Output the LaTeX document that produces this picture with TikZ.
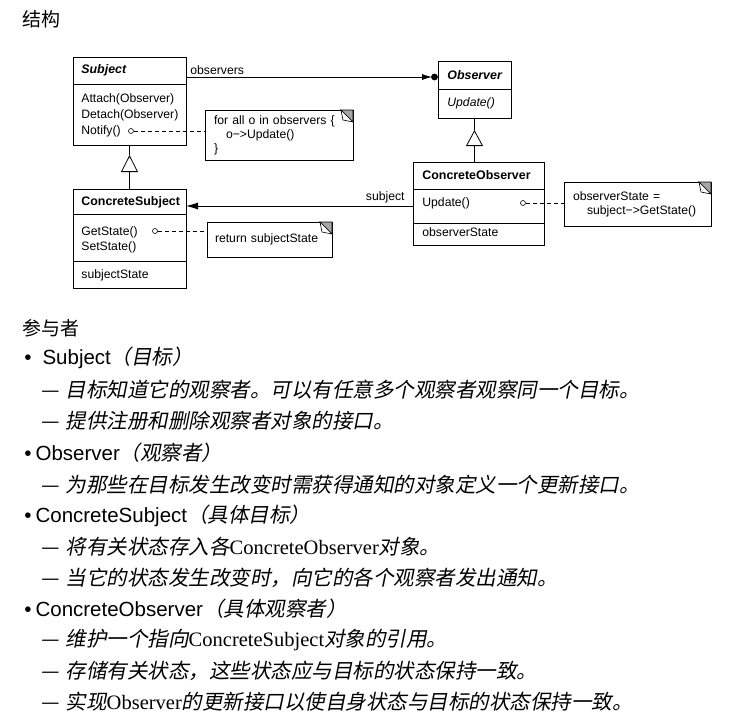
\documentclass[tikz,border=0pt]{standalone}
\usepackage{fontspec}
\setmainfont{Liberation Sans}
\newfontfamily\cjk{Noto Sans CJK SC}
\newfontfamily\cjkit{Noto Sans CJK SC}[FakeSlant=0.2]
\newfontfamily\tnr{Liberation Serif}
\usetikzlibrary{arrows.meta}
\newcommand\dgf{\fontsize{12.2}{14}\selectfont}
\newcommand\dgb{\fontsize{12.4}{14}\selectfont\bfseries}
\newcommand\bigf{\fontsize{20.5}{24}\selectfont}
\tikzset{
  box/.style={draw, anchor=north west, inner sep=0pt, outer sep=0pt},
  lbl/.style={anchor=west, inner sep=0pt, font=\dgf},
  note/.style={draw, anchor=north west, inner xsep=9pt, inner ysep=0pt, align=left, font=\dgf, outer sep=0pt},
  pin/.style={circle, draw, fill=white, minimum size=5pt, inner sep=0pt, line width=0.6pt},
  dsh/.style={dash pattern=on 4pt off 3pt},
  item/.style={anchor=west, inner sep=0pt, font=\bigf},
}
\newcommand\fold[1]{%
  \filldraw[fill=gray!70, line width=0.6pt] (#1.north east) -- ++(-12,0) -- ++(12,12) -- cycle;
  \filldraw[fill=white, line width=0.6pt] ([xshift=-12pt]#1.north east) -- ++(2,10) -- ++(10,2) -- cycle;
}
\begin{document}
\begin{tikzpicture}[x=1pt,y=-1pt,line width=0.8pt]
\useasboundingbox (0,0) rectangle (740,724);

% ---------- Subject
\node[box, minimum width=113pt, minimum height=27pt] (subjH) at (73,57) {};
\node[box, minimum width=113pt, minimum height=61pt] (subjO) at (subjH.south west) {};
\node[lbl, font=\dgb\itshape] (tSubj) at (81,70) {Subject};
\node[lbl] (tAtt) at (81,99) {Attach(Observer)};
\node[lbl] (tDet) at (81,115) {Detach(Observer)};
\node[lbl] (tNot) at (81,131) {Notify()};

% ---------- Observer
\node[box, minimum width=73pt, minimum height=28pt] (obsH) at (438,61) {};
\node[box, minimum width=73pt, minimum height=29pt] (obsO) at (obsH.south west) {};
\node[lbl, font=\dgb\itshape] (tObs) at (447,75) {Observer};
\node[lbl, font=\dgf\itshape] (tUpd) at (447,103) {Update()};

% ---------- ConcreteObserver
\node[box, minimum width=131pt, minimum height=27pt] (coH) at (413,162) {};
\node[box, minimum width=131pt, minimum height=34pt] (coO) at (coH.south west) {};
\node[box, minimum width=131pt, minimum height=22pt] (coA) at (coO.south west) {};
\node[lbl, font=\dgb] (tCO) at (422,175) {ConcreteObserver};
\node[lbl] (tCOU) at (422,203) {Update()};
\node[lbl] (tCOS) at (422,232) {observerState};

% ---------- ConcreteSubject
\node[box, minimum width=113pt, minimum height=25pt] (csH) at (73,189) {};
\node[box, minimum width=113pt, minimum height=47pt] (csO) at (csH.south west) {};
\node[box, minimum width=113pt, minimum height=27pt] (csA) at (csO.south west) {};
\node[lbl, font=\dgb] (tCS) at (81,202) {ConcreteSubject};
\node[lbl] (tGet) at (81,232) {GetState()};
\node[lbl] (tSet) at (81,247) {SetState()};
\node[lbl] (tSS) at (81,275) {subjectState};

% ---------- notes
\node[note, minimum height=50pt, text width=130pt] (n1) at (205,110)
  {for all o in observers \{\\\hspace*{12pt}o−>Update()\\\}};
\fold{n1}
\node[note, minimum height=44pt, text width=129pt] (n2) at (564,182)
  {observerState =\\\hspace*{14pt}subject−>GetState()};
\fold{n2}
\node[note, minimum height=35pt, text width=109pt, inner xsep=8pt] (n3) at (207,222)
  {return subjectState};
\fold{n3}

% ---------- pins and dashed links
\node[pin] (c1) at (131,131) {};
\node[pin] (c2) at (523,203) {};
\node[pin] (c3) at (155,231) {};
\draw[dsh] (c1) -- (c1 -| n1.west);
\draw[dsh] (c2) -- (c2 -| n2.west);
\draw[dsh] (c3) -- (c3 -| n3.west);

% ---------- associations
\coordinate (obsIn) at ([yshift=-2pt]obsH.west);
\draw[-{Latex[length=10pt,width=6pt]}, shorten >=6pt] (subjH.east |- obsIn) -- (obsIn)
  node[pos=0, anchor=base west, xshift=4pt, yshift=3pt, inner sep=0pt, font=\dgf] (lObs) {observers};
\fill ([xshift=-3.5pt]obsIn) circle (3.4pt);

\draw[-{Latex[length=12pt,width=7pt]}] (coO.west) -- (coO.west -| csH.east)
  node[pos=0, anchor=base east, xshift=-8pt, yshift=6pt, inner sep=0pt, font=\dgf] (lSub) {subject};

% ---------- inheritance
\draw[-{Triangle[open,length=17pt,width=17pt]}, shorten >=10pt] (csH.north) -- (subjO.south);
\draw (subjO.south) -- ++(0,10);
\coordinate (coTop) at (coH.north -| obsO.south);
\draw[-{Triangle[open,length=16pt,width=17pt]}, shorten >=12pt] (coTop) -- (obsO.south);
\draw (obsO.south) -- ++(0,12);

% ---------- text
\node[anchor=west, inner sep=0pt, font=\fontsize{19}{22}\selectfont\cjk] (title) at (22,19) {结构};
\node[anchor=west, inner sep=0pt, font=\fontsize{19}{22}\selectfont\cjk] (part) at (22,328) {参与者};

\node[item] (s1) at (24,358) {•\hspace{11pt}Subject{\cjkit （目标）}};
\node[item] (s1a) at (40,390) {{\cjkit —\hspace{7pt}目标知道它的观察者。可以有任意多个观察者观察同一个目标。}};
\node[item] (s1b) at (40,421) {{\cjkit —\hspace{7pt}提供注册和删除观察者对象的接口。}};
\node[item] (s2) at (24,453) {•\hspace{4pt}Observer{\cjkit （观察者）}};
\node[item] (s2a) at (40,485) {{\cjkit —\hspace{7pt}为那些在目标发生改变时需获得通知的对象定义一个更新接口。}};
\node[item] (s3) at (24,516) {•\hspace{4pt}ConcreteSubject{\cjkit （具体目标）}};
\node[item] (s3a) at (40,547) {{\cjkit —\hspace{7pt}将有关状态存入各}{\tnr ConcreteObserver}{\cjkit 对象。}};
\node[item] (s3b) at (40,578) {{\cjkit —\hspace{7pt}当它的状态发生改变时，向它的各个观察者发出通知。}};
\node[item] (s4) at (24,609) {•\hspace{4pt}ConcreteObserver{\cjkit （具体观察者）}};
\node[item] (s4a) at (40,640) {{\cjkit —\hspace{7pt}维护一个指向}{\tnr ConcreteSubject}{\cjkit 对象的引用。}};
\node[item] (s4b) at (40,671) {{\cjkit —\hspace{7pt}存储有关状态，这些状态应与目标的状态保持一致。}};
\node[item] (s4c) at (40,702) {{\cjkit —\hspace{7pt}实现}{\tnr Observer}{\cjkit 的更新接口以使自身状态与目标的状态保持一致。}};
\end{tikzpicture}
\end{document}
